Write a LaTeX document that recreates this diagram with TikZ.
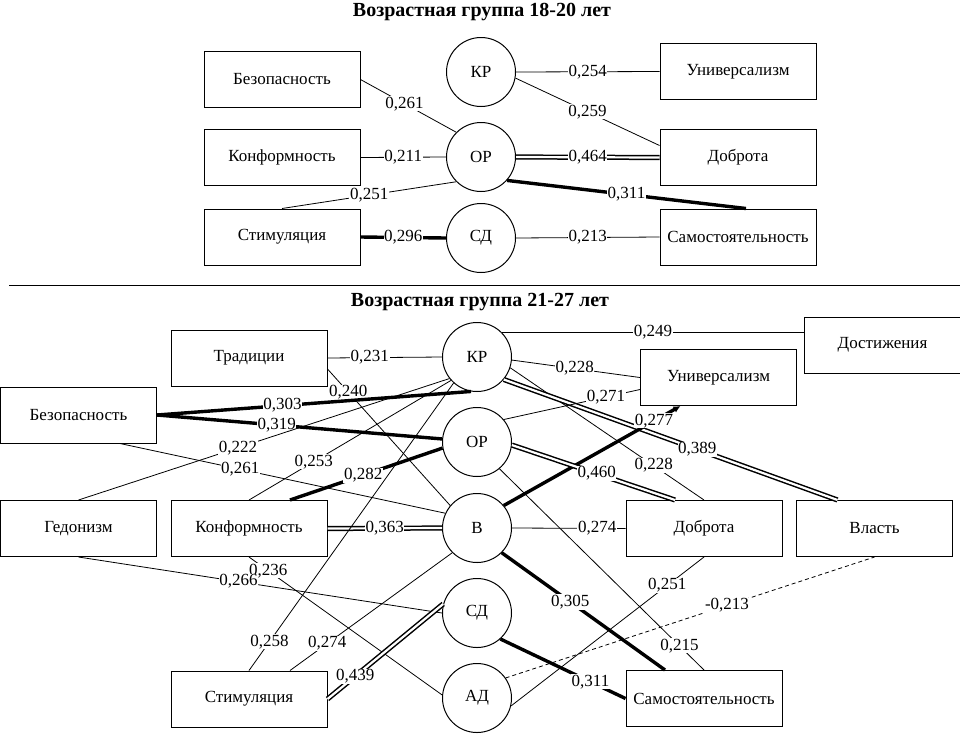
\documentclass[tikz,border=0pt]{standalone}
\usepackage{fontspec}
\setmainfont{Liberation Serif}
\usepackage{tikz}
\usetikzlibrary{arrows.meta}
\tikzset{
  box/.style={draw, line width=1pt, minimum width=156pt, minimum height=56pt, inner sep=0pt, font=\fontsize{17}{20}\selectfont},
  factor/.style={draw, circle, line width=1pt, minimum size=69pt, inner sep=0pt, font=\fontsize{17}{20}\selectfont},
  thinline/.style={draw=black, line width=0.8pt},
  thickline/.style={draw=black, line width=3.4pt},
  dbline/.style={draw=black, line width=1.5pt, double=white, double distance=2.2pt},
  dashline/.style={draw=black, line width=0.8pt, dash pattern=on 4pt off 3pt},
  lab/.style={fill=white, inner sep=0.6pt, font=\fontsize{17}{20}\selectfont},
  ttl/.style={font=\bfseries\fontsize{20}{24}\selectfont},
}

\begin{document}
\begin{tikzpicture}[x=1pt,y=-1pt]
  \useasboundingbox (0,0) rectangle (960,737);

  % 18-20
  \node[ttl] (Tone) at (482,12) {Возрастная группа 18-20 лет};
  \node[box] (Bezone) at (282,79.5) {Безопасность};
  \node[box] (Konfone) at (282,157.5) {Конформность};
  \node[box] (Stimone) at (282,237) {Стимуляция};
  \node[factor] (KRone) at (481,72) {КР};
  \node[factor] (ORone) at (481,157) {ОР};
  \node[factor] (SDone) at (481,238) {СД};
  \node[box] (Univone) at (738,71.5) {Универсализм};
  \node[box] (Dobrone) at (738,157.5) {Доброта};
  \node[box] (Samone) at (738,237) {Самостоятельность};

  \draw[thinline] (Bezone.east) -- node[lab,pos=0.46] {0,261} (ORone.135);
  \draw[thinline] (Konfone.east) -- node[lab] {0,211} (ORone.west);
  \draw[thinline] (Stimone.north) -- node[lab] {0,251} (ORone.225);
  \draw[thickline] (Stimone.east) -- node[lab] {0,296} (SDone.west);
  \draw[thinline] (KRone.east) -- node[lab] {0,254} (Univone.west);
  \draw[thinline] (KRone.350) -- node[lab] {0,259} ([yshift=12pt]Dobrone.west);
  \draw[dbline] (ORone.east) -- node[lab] {0,464} (Dobrone.west);
  \draw[thickline] (ORone.318) -- node[lab] {0,311} ([xshift=8pt]Samone.north);
  \draw[thinline] (SDone.east) -- node[lab] {0,213} (Samone.west);

  \draw[thinline] (9,285) -- (960,285);

  % 21-27
  \node[ttl] (Ttwo) at (480,302) {Возрастная группа 21-27 лет};
  \node[box] (Tradtwo) at (249,358) {Традиции};
  \node[box] (Beztwo) at (78.5,415) {Безопасность};
  \node[box] (Gedtwo) at (78.5,528.5) {Гедонизм};
  \node[box] (Konftwo) at (249,528.5) {Конформность};
  \node[box] (Stimtwo) at (249,699) {Стимуляция};
  \node[factor] (KRtwo) at (477,357) {КР};
  \node[factor] (ORtwo) at (477,442) {ОР};
  \node[factor] (Vtwo) at (477,528) {В};
  \node[factor] (SDtwo) at (477,613) {СД};
  \node[factor] (ADtwo) at (477,698) {АД};
  \node[box] (Dosttwo) at (882.5,345) {Достижения};
  \node[box] (Univtwo) at (718.5,377.5) {Универсализм};
  \node[box] (Dobrtwo) at (704,528.5) {Доброта};
  \node[box] (Vlasttwo) at (874.5,528.5) {Власть};
  \node[box] (Samtwo) at (704,698.5) {Самостоятельность};

  \draw[thinline] (Tradtwo.east) -- node[lab,pos=0.37] {0,231} (KRtwo.west);
  \draw[thinline] ([yshift=-11pt]Tradtwo.east) -- node[lab,pos=0.17] {0,240} (Vtwo.140);
  \draw[thickline] (Beztwo.east) -- node[lab,pos=0.4] {0,303} (KRtwo.260);
  \draw[thickline] (Beztwo.east) -- node[lab,pos=0.42] {0,319} (ORtwo.175);
  \draw[thinline] ([xshift=41.5pt]Beztwo.south) -- node[lab,pos=0.37] {0,261} (Vtwo.155);
  \draw[thinline] (Gedtwo.north) -- node[lab,pos=0.43] {0,222} (KRtwo.218);
  \draw[thinline] (Konftwo.north) -- node[lab,pos=0.32] {0,253} (KRtwo.222);
  \draw[thickline] ([xshift=41pt]Konftwo.north) -- node[lab,pos=0.48] {0,282} (ORtwo.190);
  \draw[dbline] (Konftwo.east) -- node[lab] {0,363} (Vtwo.west);
  \draw[thinline] (Konftwo.south) -- node[lab,pos=0.1] {0,236} (ADtwo.175);
  \draw[thinline] (Gedtwo.south) -- node[lab,pos=0.44] {0,266} (SDtwo.180);
  \draw[thinline] (Stimtwo.north) -- node[lab,pos=0.1] {0,258} (KRtwo.228);
  \draw[thinline] ([xshift=41pt]Stimtwo.north) -- node[lab,pos=0.23] {0,274} (Vtwo.225);
  \draw[dbline] (Stimtwo.east) -- node[lab,pos=0.24] {0,439} (SDtwo.165);

  \draw[thinline] (KRtwo.45) -- node[lab] {0,249} (KRtwo.45 -| Dosttwo.west);
  \draw[thinline] (KRtwo.355) -- node[lab,pos=0.49] {0,228} (Univtwo.west);
  \draw[thinline] (KRtwo.342) -- node[lab,pos=0.74] {0,228} (Dobrtwo.north);
  \draw[dbline] (KRtwo.320) -- node[lab,pos=0.58] {0,389} ([xshift=-37pt]Vlasttwo.north);
  \draw[thinline] (ORtwo.40) -- node[lab,pos=0.75] {0,271} ([yshift=-12pt]Univtwo.west);
  \draw[thickline,-{Latex[length=7pt,width=7pt]}] (Vtwo.40) -- node[lab,pos=0.85] {0,277} ([xshift=-38pt]Univtwo.south);
  \draw[dbline] (ORtwo.355) -- node[lab,pos=0.52] {0,460} ([xshift=-29pt]Dobrtwo.north);
  \draw[thinline] (ORtwo.310) -- node[lab,pos=0.88] {0,215} (Samtwo.north);
  \draw[thinline] (Vtwo.east) -- node[lab,pos=0.75] {0,274} (Dobrtwo.west);
  \draw[thickline] (Vtwo.315) -- node[lab,pos=0.42] {0,305} ([xshift=-39pt]Samtwo.north);
  \draw[thickline] (SDtwo.312) -- node[lab,pos=0.72] {0,311} (Samtwo.west);
  \draw[thinline] (ADtwo.347) -- node[lab,pos=0.81] {0,251} (Dobrtwo.south);
  \draw[dashline] (ADtwo.35) -- node[lab,pos=0.6] {-0,213} (Vlasttwo.south);
\end{tikzpicture}
\end{document}
